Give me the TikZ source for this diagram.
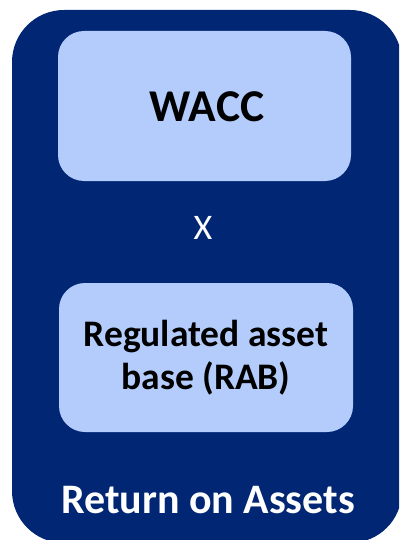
\documentclass[tikz,border=0pt]{standalone}
\usepackage{fontspec}
\setmainfont{Carlito}
\definecolor{navy}{RGB}{0,38,116}
\definecolor{paleblue}{RGB}{180,204,251}
\begin{document}
\begin{tikzpicture}[x=1pt,y=-1pt,
  panel/.style={fill=paleblue, draw=none, rounded corners=26pt},
  boxtext/.style={font=\fontsize{37.5}{43}\selectfont\bfseries, text=black, align=center}]
\useasboundingbox (0,0) rectangle (399,540);
\begin{scope}
  \clip (0,0) rectangle (399,540);
  % outer container
  \fill[navy, rounded corners=52pt] (12,10) rectangle (402,543);
\end{scope}
% inner panels
\path[panel] (58,31) rectangle (351,181);
\path[panel] (59,283) rectangle (353,432);
\node[font=\fontsize{45.5}{52}\selectfont\bfseries] (wacc) at (207,107) {WACC};
\node[boxtext] (rab) at (206,358) {Regulated asset\\base (RAB)};
\node[font=\fontsize{36}{40}\selectfont, text=white] (times) at (203,228) {X};
\node[font=\fontsize{42}{48}\selectfont\bfseries, text=white] (roa) at (208,500) {Return on Assets};
\end{tikzpicture}
\end{document}
